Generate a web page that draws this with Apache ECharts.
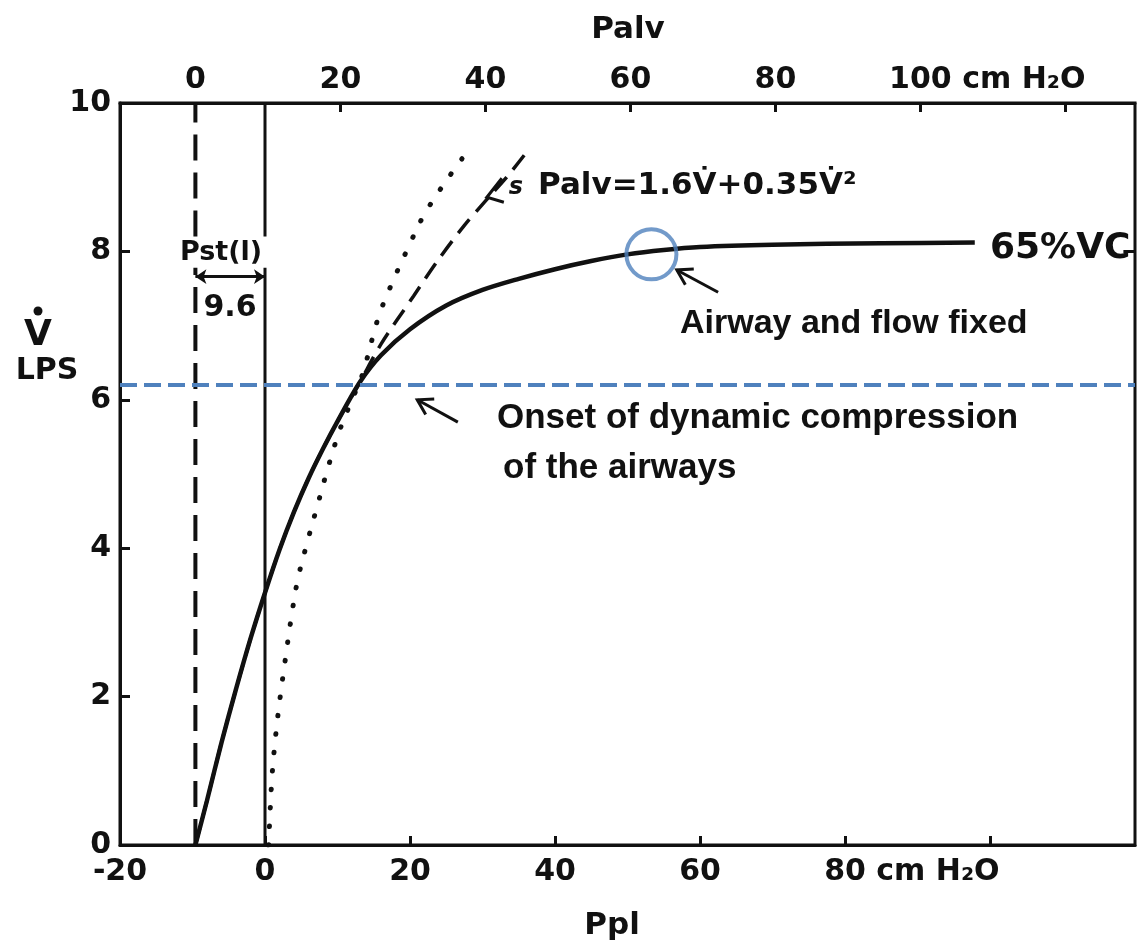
<!DOCTYPE html>
<html><head><meta charset="utf-8">
<script src="https://cdn.jsdelivr.net/npm/echarts@6/dist/echarts.min.js"></script>
<style>html,body{margin:0;padding:0;background:#fff}#c{width:1139px;height:949px}</style>
</head><body><div id="c"></div>
<script>
// ---------------- data ----------------
const pplLabels  = [-20, 0, 20, 40, 60, 80];        // labelled bottom (Ppl) ticks
const palvTicks  = [0, 20, 40, 60, 80, 100, 120];   // top (Palv) ticks
const palvLabels = [0, 20, 40, 60, 80, 100];        // labelled top ticks
const flowTicks  = [0, 2, 4, 6, 8, 10];             // V̇ (LPS)
const unitAfter  = {ppl:80, palv:100};              // tick label followed by the unit
const pstL = 9.6;                                   // Pst(l), cm H2O
const onsetFlow = 6.2;                              // onset of dynamic compression
const fixedPoint = [53.3, 7.96];                    // airway and flow fixed
// 65% VC iso-volume curve (Ppl, V̇)
const curve65VC = [[-9.6,0],[-8,0.6],[-6,1.38],[-4,2.1],[-2,2.78],[0,3.4],[2,3.98],[4,4.49],[6,4.94],[8,5.34],[10,5.71],[13.1,6.24],[16,6.6],[20,6.95],[25,7.27],[30,7.48],[35,7.63],[40,7.76],[45,7.87],[50,7.96],[55,8.02],[60,8.06],[70,8.09],[85,8.11],[97.9,8.12]];
// Palv = 1.6V̇ + 0.35V̇² (dashed)
const palvCurve = [[-9.6,0],[-8,0.6],[-6,1.38],[-4,2.1],[-2,2.78],[0,3.4],[2,3.98],[4,4.49],[6,4.94],[8,5.34],[10,5.71],[13.1,6.24],[16,6.75],[20.5,7.4],[24,7.9],[27.5,8.35],[30.6,8.7],[33.5,9.02],[36.1,9.34]];
// dotted curve
const dottedCurve = [[0.5,0],[0.7,0.44],[1.0,0.97],[1.5,1.5],[2.1,2.0],[2.8,2.5],[3.6,3.05],[4.5,3.57],[5.8,4.07],[7.3,4.6],[8.7,5.09],[10.3,5.59],[12,6.0],[13.4,6.33],[15.6,7.1],[17.2,7.5],[19.6,8.02],[22.1,8.52],[26.2,9.12],[27.9,9.34]];

// ---------------- layout / style ----------------
const INK = '#111';
const BLUE = '#4F81BD';
const FIG = 'DejaVu Sans';
const ANN = 'Liberation Sans';
const UNIT = ' cm H\u2082O';
const TICKFONT = 'bold 30px "' + FIG + '"';
const pstGap = [7.78, 8.2];     // vertical guide lines break around the Pst(l) label

const chart = echarts.init(document.getElementById('c'));
const lineBase = {type:'line', showSymbol:false, symbol:'none', silent:true, animation:false};
const labelStyle = {color:INK, fontFamily:FIG, fontWeight:'bold', fontSize:30};

const option = {
  animation:false,
  backgroundColor:'#fff',
  grid:{left:120, right:4, top:103, bottom:104, show:true, borderColor:INK, borderWidth:3, backgroundColor:'rgba(0,0,0,0)'},
  xAxis:[
    {type:'value', position:'bottom', min:-20, max:120, interval:20,
     axisLine:{show:true, onZero:false, lineStyle:{color:INK, width:3}},
     axisTick:{show:true, inside:true, length:9, lineStyle:{color:INK, width:3}},
     splitLine:{show:false},
     axisLabel:Object.assign({margin:12, showMaxLabel:false,
       formatter:function(v){ return pplLabels.indexOf(v) < 0 ? '' : String(v); }}, labelStyle)
    },
    {type:'value', position:'top', min:-20 + pstL, max:120 + pstL,
     axisLine:{show:true, onZero:false, lineStyle:{color:INK, width:3}},
     axisTick:{show:true, inside:true, length:9, customValues:palvTicks, lineStyle:{color:INK, width:3}},
     splitLine:{show:false},
     axisLabel:Object.assign({margin:8, customValues:palvLabels, hideOverlap:false,
       formatter:function(v){ return String(v); }}, labelStyle)
    }
  ],
  yAxis:[{type:'value', min:0, max:10, interval:2,
     axisLine:{show:true, onZero:false, lineStyle:{color:INK, width:3}},
     axisTick:{show:true, inside:true, length:10, lineStyle:{color:INK, width:3}},
     splitLine:{show:false},
     axisLabel:Object.assign({margin:9,
       formatter:function(v){ return flowTicks.indexOf(v) >= 0 ? String(v) : ''; }}, labelStyle)
  }],
  series:[
    Object.assign({}, lineBase, {name:'65%VC', data:curve65VC, smooth:0.3, z:6,
      lineStyle:{color:INK, width:4.5}}),
    Object.assign({}, lineBase, {name:'Palv formula', data:palvCurve, smooth:0.3, z:5,
      lineStyle:{color:INK, width:3.5, type:[18,10]}}),
    Object.assign({}, lineBase, {name:'dotted', data:dottedCurve, smooth:0.35, z:5,
      lineStyle:{color:INK, width:5, type:[0.5,18], cap:'round'}}),
    // vertical guide at Palv = 0 (dashed)
    Object.assign({}, lineBase, {data:[[-pstL,0],[-pstL,pstGap[0]]], z:4, lineStyle:{color:INK, width:4, type:[26,12]}}),
    Object.assign({}, lineBase, {data:[[-pstL,pstGap[1]],[-pstL,10]], z:4, lineStyle:{color:INK, width:4, type:[26,12]}}),
    // vertical guide at Ppl = 0 (solid)
    Object.assign({}, lineBase, {data:[[0,0],[0,pstGap[0]]], z:4, lineStyle:{color:INK, width:3}}),
    Object.assign({}, lineBase, {data:[[0,pstGap[1]],[0,10]], z:4, lineStyle:{color:INK, width:3}}),
    // onset of dynamic compression
    Object.assign({}, lineBase, {data:[[-20,onsetFlow],[120,onsetFlow]], z:7, lineStyle:{color:BLUE, width:4, type:[17,7]}}),
    // right frame tick at 8
    Object.assign({}, lineBase, {data:[[118.4,8],[120,8]], z:4, lineStyle:{color:INK, width:3}}),
    // Pst(l) span arrow
    {type:'lines', coordinateSystem:'cartesian2d', silent:true, z:6,
     symbol:['arrow','arrow'], symbolSize:11,
     lineStyle:{color:INK, width:3, opacity:1},
     data:[{coords:[[-pstL, pstGap[0]-0.12],[0, pstGap[0]-0.12]]}]},
    // fixed point circle
    {type:'scatter', data:[fixedPoint], symbol:'circle', symbolSize:50, silent:true, z:8,
     itemStyle:{color:'rgba(0,0,0,0)', borderColor:BLUE, borderWidth:4}}
  ]
};
chart.setOption(option);

// ---------- annotations ----------
function px(p){ return chart.convertToPixel({seriesIndex:0}, p); }
const ctx = document.createElement('canvas').getContext('2d');
ctx.font = TICKFONT;
function chevron(tail, tip, len){
  const a = px(tail), b = px(tip);
  const ang = Math.atan2(a[1]-b[1], a[0]-b[0]);
  const s = 0.55;
  const p1 = [b[0] + len*Math.cos(ang+s), b[1] + len*Math.sin(ang+s)];
  const p2 = [b[0] + len*Math.cos(ang-s), b[1] + len*Math.sin(ang-s)];
  return [
    {type:'line', shape:{x1:a[0], y1:a[1], x2:b[0], y2:b[1]}, style:{stroke:INK, lineWidth:3}, z:20},
    {type:'polyline', shape:{points:[p1,b,p2]}, style:{stroke:INK, lineWidth:3, fill:null}, z:20}
  ];
}
function txt(x, y, s, o){
  return Object.assign({type:'text', x:x, y:y, z:30, style:Object.assign({text:s, fill:INK, font:'bold 30px "'+FIG+'"', align:'center', verticalAlign:'middle'}, o||{})});
}
// unit suffixes after the "80" (bottom) and "100" (top) tick labels
const xB = chart.convertToPixel({xAxisIndex:0}, unitAfter.ppl);
const xT = chart.convertToPixel({xAxisIndex:1}, unitAfter.palv);
const wB = ctx.measureText(String(unitAfter.ppl)).width;
const wT = ctx.measureText(String(unitAfter.palv)).width;
const yB = 845 + 12 + 15, yT = 103 - 8 - 15;
const formulaTip = px([30.6, 8.73]);
const g = [].concat(
  chevron([62.5, 7.45], [56.8, 7.75], 17),
  chevron([26.6, 5.70], [21.0, 6.0], 17),
  [
    txt(xB + wB/2, yB, UNIT, {align:'left', font:TICKFONT}),
    txt(xT + wT/2, yT, UNIT, {align:'left', font:TICKFONT}),
    {type:'polyline', shape:{points:[[formulaTip[0]+15, formulaTip[1]-19],[formulaTip[0], formulaTip[1]],[formulaTip[0]+17, formulaTip[1]+5]]}, style:{stroke:INK, lineWidth:3, fill:null}, z:20},
    txt(formulaTip[0]+29, formulaTip[1]-9, 's', {font:'italic bold 24px "'+FIG+'"'}),
    txt(628, 30, 'Palv', {font:'bold 31px "'+FIG+'"'}),
    txt(612, 926, 'Ppl', {font:'bold 31px "'+FIG+'"'}),
    {type:'circle', shape:{cx:38, cy:311, r:4.5}, style:{fill:INK}, z:30},
    txt(38, 336, 'V', {font:'bold 36px "'+FIG+'"'}),
    txt(47, 371, 'LPS', {font:'bold 30px "'+FIG+'"'}),
    txt(221, 253, 'Pst(l)', {font:'bold 27px "'+FIG+'"'}),
    txt(230, 308, '9.6', {font:'bold 30px "'+FIG+'"'}),
    txt(538, 186, 'Palv=1.6V\u0307+0.35V\u0307\u00b2', {align:'left', font:'bold 31px "'+FIG+'"'}),
    txt(990, 249, '65%VC', {align:'left', font:'bold 36px "'+FIG+'"'}),
    txt(680, 324, 'Airway and flow fixed', {align:'left', font:'bold 34px "'+ANN+'"'}),
    txt(497, 418, 'Onset of dynamic compression', {align:'left', font:'bold 35px "'+ANN+'"'}),
    txt(503, 468, 'of the airways', {align:'left', font:'bold 35px "'+ANN+'"'})
  ]
);
chart.setOption({graphic:{elements:g}});
</script>
</body></html>
